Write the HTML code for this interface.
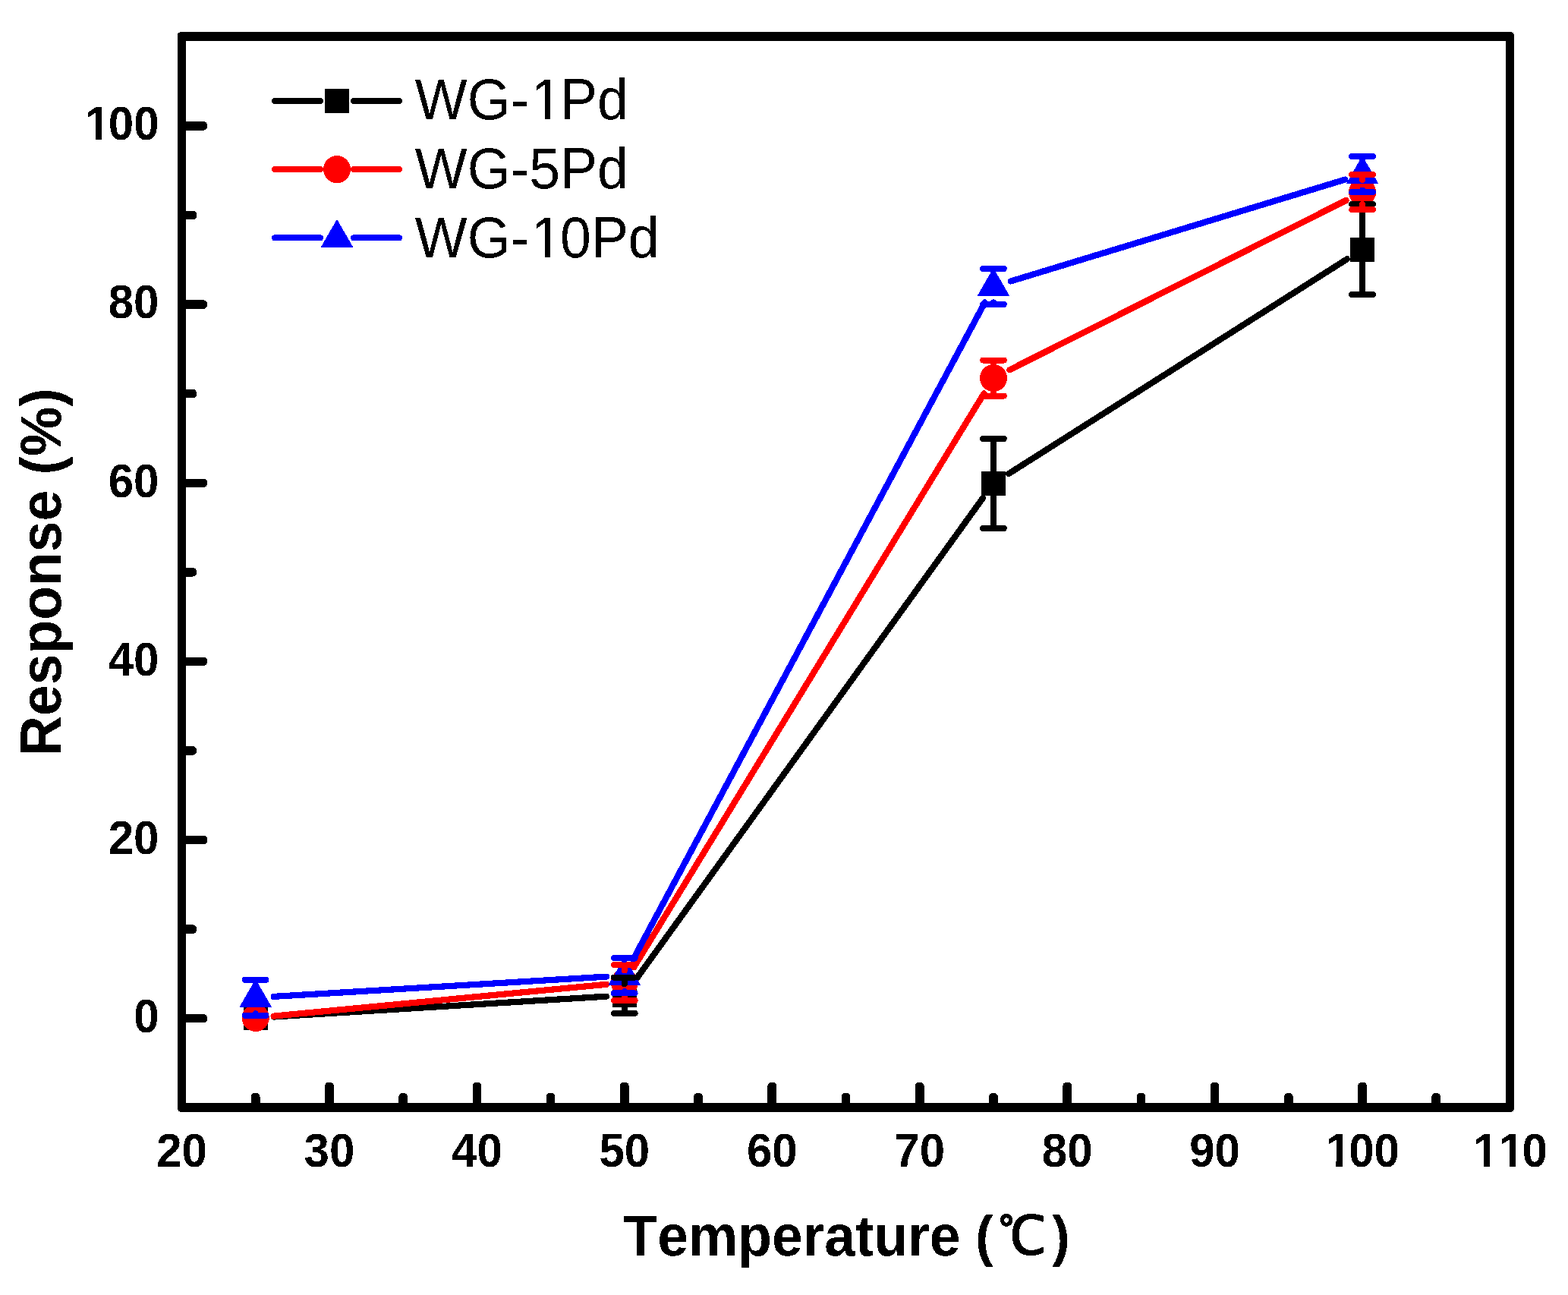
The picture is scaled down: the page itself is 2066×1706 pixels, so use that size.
<!DOCTYPE html>
<html lang="en">
<head>
<meta charset="utf-8">
<title>Response (%) vs Temperature (℃)</title>
<style>
html,body{margin:0;padding:0;background:#ffffff;}
body{width:2066px;height:1706px;overflow:hidden;}
svg{display:block;}
text{font-family:"Liberation Sans","Noto Sans CJK KR",sans-serif;fill:#000;font-kerning:none;font-variant-ligatures:none;filter:url(#bin);}
.tick{font-size:60px;font-weight:bold;}
.title{font-size:73.3px;font-weight:bold;}
.leg{font-size:73.4px;font-weight:normal;}
.deg{font-family:"WenQuanYi Zen Hei","IPAGothic","Noto Sans CJK KR","DejaVu Sans",sans-serif;font-weight:normal;font-size:67.4px;stroke:#000;stroke-width:1.6px;stroke-linejoin:round;}
</style>
</head>
<body>
<svg width="2066" height="1706" viewBox="0 0 2066 1706" shape-rendering="crispEdges">
<defs><filter id="bin" x="-5%" y="-5%" width="110%" height="110%" color-interpolation-filters="sRGB"><feComponentTransfer><feFuncA type="discrete" tableValues="0 1"/></feComponentTransfer></filter></defs>
<rect x="0" y="0" width="2066" height="1706" fill="#ffffff"/>
<g fill="#000">
<rect x="239.5" y="1336.02" width="33.5" height="11.4" rx="4.6" ry="4.6"/>
<rect x="239.5" y="1218.43" width="19.5" height="11.4" rx="4.6" ry="4.6"/>
<rect x="239.5" y="1100.85" width="33.5" height="11.4" rx="4.6" ry="4.6"/>
<rect x="239.5" y="983.27" width="19.5" height="11.4" rx="4.6" ry="4.6"/>
<rect x="239.5" y="865.68" width="33.5" height="11.4" rx="4.6" ry="4.6"/>
<rect x="239.5" y="748.1" width="19.5" height="11.4" rx="4.6" ry="4.6"/>
<rect x="239.5" y="630.52" width="33.5" height="11.4" rx="4.6" ry="4.6"/>
<rect x="239.5" y="512.93" width="19.5" height="11.4" rx="4.6" ry="4.6"/>
<rect x="239.5" y="395.35" width="33.5" height="11.4" rx="4.6" ry="4.6"/>
<rect x="239.5" y="277.77" width="19.5" height="11.4" rx="4.6" ry="4.6"/>
<rect x="239.5" y="160.18" width="33.5" height="11.4" rx="4.6" ry="4.6"/>
<rect x="330.92" y="1440" width="11.6" height="19" rx="4.6" ry="4.6"/>
<rect x="428.14" y="1425.8" width="11.6" height="33.2" rx="4.6" ry="4.6"/>
<rect x="525.37" y="1440" width="11.6" height="19" rx="4.6" ry="4.6"/>
<rect x="622.59" y="1425.8" width="11.6" height="33.2" rx="4.6" ry="4.6"/>
<rect x="719.81" y="1440" width="11.6" height="19" rx="4.6" ry="4.6"/>
<rect x="817.03" y="1425.8" width="11.6" height="33.2" rx="4.6" ry="4.6"/>
<rect x="914.26" y="1440" width="11.6" height="19" rx="4.6" ry="4.6"/>
<rect x="1011.48" y="1425.8" width="11.6" height="33.2" rx="4.6" ry="4.6"/>
<rect x="1108.7" y="1440" width="11.6" height="19" rx="4.6" ry="4.6"/>
<rect x="1205.92" y="1425.8" width="11.6" height="33.2" rx="4.6" ry="4.6"/>
<rect x="1303.14" y="1440" width="11.6" height="19" rx="4.6" ry="4.6"/>
<rect x="1400.37" y="1425.8" width="11.6" height="33.2" rx="4.6" ry="4.6"/>
<rect x="1497.59" y="1440" width="11.6" height="19" rx="4.6" ry="4.6"/>
<rect x="1594.81" y="1425.8" width="11.6" height="33.2" rx="4.6" ry="4.6"/>
<rect x="1692.03" y="1440" width="11.6" height="19" rx="4.6" ry="4.6"/>
<rect x="1789.26" y="1425.8" width="11.6" height="33.2" rx="4.6" ry="4.6"/>
<rect x="1886.48" y="1440" width="11.6" height="19" rx="4.6" ry="4.6"/>
</g>
<g fill="#000">
<rect x="234" y="42" width="1761" height="12" rx="4.5" ry="4.5"/>
<rect x="234" y="1453" width="1761" height="12" rx="4.5" ry="4.5"/>
<rect x="234" y="42" width="11" height="1423" rx="4.5" ry="4.5"/>
<rect x="1984" y="42" width="11" height="1423" rx="4.5" ry="4.5"/>
</g>
<g>
<path d="M360.68 1339.53L798.88 1312.67M836.87 1291.73L1294.91 656.27M1329.21 623.95L1774.79 341.35" stroke="#000000" stroke-width="8.2" stroke-linecap="round" fill="none"/>
<rect x="320.72" y="1325" width="32" height="32" fill="#000000"/>
<rect x="806.83" y="1295.2" width="32" height="32" fill="#000000"/>
<rect x="1292.94" y="620.8" width="32" height="32" fill="#000000"/>
<rect x="1779.06" y="312.5" width="32" height="32" fill="#000000"/>
</g>
<g>
<path d="M360.61 1338.62L798.94 1296.78M835.34 1274.01L1296.44 518.49M1330.38 487.2L1773.62 263.9" stroke="#ff0000" stroke-width="8.2" stroke-linecap="round" fill="none"/>
<circle cx="336.72" cy="1340.9" r="18.05" fill="#ff0000"/>
<circle cx="822.83" cy="1294.5" r="18.05" fill="#ff0000"/>
<circle cx="1308.94" cy="498" r="18.05" fill="#ff0000"/>
<circle cx="1795.06" cy="253.1" r="18.05" fill="#ff0000"/>
</g>
<g>
<path d="M360.68 1312.87L798.88 1286.63M834.16 1264.04L1297.61 398.56M1331.91 370.42L1772.09 236.58" stroke="#0000ff" stroke-width="8.2" stroke-linecap="round" fill="none"/>
<path d="M336.72 1289.7L358.02 1326.8L315.42 1326.8Z" fill="#0000ff"/>
<path d="M822.83 1260.6L844.13 1297.7L801.53 1297.7Z" fill="#0000ff"/>
<path d="M1308.94 352.8L1330.24 389.9L1287.64 389.9Z" fill="#0000ff"/>
<path d="M1795.06 205L1816.36 242.1L1773.76 242.1Z" fill="#0000ff"/>
</g>
<g stroke="#000000" stroke-width="8" stroke-linecap="round" fill="none">
<path d="M809.03 1287.6L836.63 1287.6M822.83 1287.6L822.83 1296.2M809.03 1334.8L836.63 1334.8M822.83 1334.8L822.83 1326.2"/>
<path d="M1295.14 577.8L1322.74 577.8M1308.94 577.8L1308.94 621.8M1295.14 695.8L1322.74 695.8M1308.94 695.8L1308.94 651.8"/>
<path d="M1781.26 269L1808.86 269M1795.06 269L1795.06 313.5M1781.26 388L1808.86 388M1795.06 388L1795.06 343.5"/>
</g>
<g stroke="#ff0000" stroke-width="8" stroke-linecap="round" fill="none">
<path d="M809.03 1271L836.63 1271M822.83 1271L822.83 1278.5M809.03 1318L836.63 1318M822.83 1318L822.83 1310.5"/>
<path d="M1295.14 474.5L1322.74 474.5M1308.94 474.5L1308.94 482M1295.14 521.5L1322.74 521.5M1308.94 521.5L1308.94 514"/>
<path d="M1781.26 230L1808.86 230M1795.06 230L1795.06 237.1M1781.26 276.2L1808.86 276.2M1795.06 276.2L1795.06 269.1"/>
</g>
<g stroke="#0000ff" stroke-width="8" stroke-linecap="round" fill="none">
<path d="M322.92 1290.8L350.52 1290.8M336.72 1290.8L336.72 1293.3M322.92 1337.8L350.52 1337.8M336.72 1337.8L336.72 1335.3"/>
<path d="M809.03 1262L836.63 1262M822.83 1262L822.83 1264.2M809.03 1308.4L836.63 1308.4M822.83 1308.4L822.83 1306.2"/>
<path d="M1295.14 353.9L1322.74 353.9M1308.94 353.9L1308.94 356.4M1295.14 400.9L1322.74 400.9M1308.94 400.9L1308.94 398.4"/>
<path d="M1781.26 206L1808.86 206M1795.06 206L1795.06 208.6M1781.26 253.2L1808.86 253.2M1795.06 253.2L1795.06 250.6"/>
</g>
<g>
<path d="M362 133L422 133M466 133L526 133" stroke="#000000" stroke-width="8" stroke-linecap="round" fill="none"/>
<rect x="428" y="117" width="32" height="32" fill="#000000"/>
<g transform="translate(546.5 157.2) scale(1 1.045)"><text style="font-size:73.4px;font-weight:normal">WG-<tspan dx="2.4">1</tspan><tspan dx="-2.4">Pd</tspan></text><g fill="#ffffff"><rect x="157.81" y="-6.08" width="13.87" height="7.58"/><rect x="178.16" y="-6.08" width="13.29" height="7.58"/></g></g>
</g>
<g>
<path d="M362 223.2L422 223.2M466 223.2L526 223.2" stroke="#ff0000" stroke-width="8" stroke-linecap="round" fill="none"/>
<circle cx="444" cy="223.2" r="18.05" fill="#ff0000"/>
<g transform="translate(546.5 248.4) scale(1 1.045)"><text style="font-size:73.4px;font-weight:normal">WG-5Pd</text></g>
</g>
<g>
<path d="M362 313.3L422 313.3M466 313.3L526 313.3" stroke="#0000ff" stroke-width="8" stroke-linecap="round" fill="none"/>
<path d="M444 288.7L465.3 325.8L422.7 325.8Z" fill="#0000ff"/>
<g transform="translate(546.5 339.2) scale(1 1.045)"><text style="font-size:73.4px;font-weight:normal">WG-<tspan dx="2.4">1</tspan><tspan dx="-2.4">0Pd</tspan></text><g fill="#ffffff"><rect x="157.81" y="-6.08" width="13.87" height="7.58"/><rect x="178.16" y="-6.08" width="13.29" height="7.58"/></g></g>
</g>
<g class="tick">
<g transform="translate(176.13 1360.02) scale(1 1.06)"><text style="font-size:60px;font-weight:bold">0</text></g>
<g transform="translate(142.76 1124.85) scale(1 1.06)"><text style="font-size:60px;font-weight:bold">20</text></g>
<g transform="translate(142.76 889.68) scale(1 1.06)"><text style="font-size:60px;font-weight:bold">40</text></g>
<g transform="translate(142.76 654.52) scale(1 1.06)"><text style="font-size:60px;font-weight:bold">60</text></g>
<g transform="translate(142.76 419.35) scale(1 1.06)"><text style="font-size:60px;font-weight:bold">80</text></g>
<g transform="translate(109.39 184.18) scale(1 1.06)"><text style="font-size:60px;font-weight:bold"><tspan dx="2.6">1</tspan><tspan dx="-2.6">00</tspan></text><g fill="#ffffff"><rect x="5.38" y="-6.72" width="11.22" height="8.22"/><rect x="24.84" y="-6.72" width="10.46" height="8.22"/></g></g>
</g>
<g class="tick">
<g transform="translate(206.13 1536.5) scale(1 1.06)"><text style="font-size:60px;font-weight:bold">20</text></g>
<g transform="translate(400.58 1536.5) scale(1 1.06)"><text style="font-size:60px;font-weight:bold">30</text></g>
<g transform="translate(595.02 1536.5) scale(1 1.06)"><text style="font-size:60px;font-weight:bold">40</text></g>
<g transform="translate(789.46 1536.5) scale(1 1.06)"><text style="font-size:60px;font-weight:bold">50</text></g>
<g transform="translate(983.91 1536.5) scale(1 1.06)"><text style="font-size:60px;font-weight:bold">60</text></g>
<g transform="translate(1178.35 1536.5) scale(1 1.06)"><text style="font-size:60px;font-weight:bold">70</text></g>
<g transform="translate(1372.8 1536.5) scale(1 1.06)"><text style="font-size:60px;font-weight:bold">80</text></g>
<g transform="translate(1567.24 1536.5) scale(1 1.06)"><text style="font-size:60px;font-weight:bold">90</text></g>
<g transform="translate(1743.8 1536.5) scale(1 1.06)"><text style="font-size:60px;font-weight:bold"><tspan dx="2.6">1</tspan><tspan dx="-2.6">00</tspan></text><g fill="#ffffff"><rect x="5.38" y="-6.72" width="11.22" height="8.22"/><rect x="24.84" y="-6.72" width="10.46" height="8.22"/></g></g>
<g transform="translate(1938.65 1536.5) scale(1 1.06)"><text style="font-size:60px;font-weight:bold"><tspan dx="2.6">11</tspan><tspan dx="-2.6">0</tspan></text><g fill="#ffffff"><rect x="5.38" y="-6.72" width="11.22" height="8.22"/><rect x="24.84" y="-6.72" width="10.46" height="8.22"/><rect x="38.75" y="-6.72" width="11.22" height="8.22"/><rect x="58.21" y="-6.72" width="10.46" height="8.22"/></g></g>
</g>
<g class="title">
<text transform="translate(821.6 1653.9) scale(1 1.045)" xml:space="preserve">Temperature <tspan x="463.6" style="font-size:70.14px">(</tspan><tspan class="deg" x="494" dy="-1.4">℃</tspan><tspan x="564.6" dy="1.4" style="font-size:70.14px">)</tspan></text>
<text transform="translate(79.8 996) rotate(-90) scale(1 1.045)">Response (%)</text>
</g>
</svg>
</body>
</html>
